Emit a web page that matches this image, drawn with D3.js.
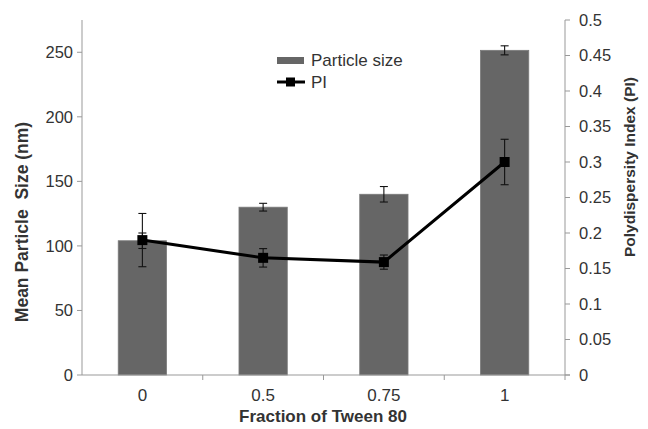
<!DOCTYPE html>
<html>
<head>
<meta charset="utf-8">
<script src="https://cdn.jsdelivr.net/npm/d3@7"></script>
<style>
  body { margin: 0; background: #fff; }
  text { font-family: "Liberation Sans", Arial, sans-serif; fill: #333; }
</style>
</head>
<body>
<div id="chart"></div>
<script>
// data
const fractions = ["0", "0.5", "0.75", "1"];
const sizeMean = [104, 130, 140, 251.5];
const sizeErr = [6, 3, 6, 3.5];
const piMean = [0.19, 0.165, 0.159, 0.30];
const piErr = [0.0375, 0.013, 0.01, 0.032];
const sizeTicks = [0, 50, 100, 150, 200, 250];
const piTicks = [0, 0.05, 0.1, 0.15, 0.2, 0.25, 0.3, 0.35, 0.4, 0.45, 0.5];

const W = 648, H = 429;
const plot = { left: 82, right: 565, top: 20, bottom: 375 };
const axisColor = "#999";

const svg = d3.select("#chart").append("svg")
  .attr("width", W).attr("height", H);

const x = d3.scaleBand()
  .domain(fractions)
  .range([plot.left, plot.right])
  .paddingInner(0.6)
  .paddingOuter(0.3);

const yL = d3.scaleLinear().domain([0, 275]).range([plot.bottom, plot.top]);
const yR = d3.scaleLinear().domain([0, 0.5]).range([plot.bottom, plot.top]);

const rows = fractions.map((f, i) => ({
  f, size: sizeMean[i], se: sizeErr[i], pi: piMean[i], pe: piErr[i]
}));
const cx = d => x(d.f) + x.bandwidth() / 2;

// bars
svg.selectAll(".bar")
  .data(rows)
  .enter().append("rect")
  .attr("class", "bar")
  .attr("x", d => x(d.f))
  .attr("y", d => yL(d.size))
  .attr("width", x.bandwidth())
  .attr("height", d => yL(0) - yL(d.size))
  .attr("fill", "#666")
  .attr("stroke", "#7a7a7a")
  .attr("stroke-width", 0.8);

// error bars helper
function errBars(cls, yScale, val, err) {
  const g = svg.selectAll("." + cls)
    .data(rows)
    .enter().append("g")
    .attr("class", cls)
    .attr("stroke", "#111")
    .attr("stroke-width", 1.1);
  g.append("line")
    .attr("x1", cx).attr("x2", cx)
    .attr("y1", d => yScale(val(d) - err(d)))
    .attr("y2", d => yScale(val(d) + err(d)));
  [-1, 1].forEach(s => {
    g.append("line")
      .attr("x1", d => cx(d) - 4).attr("x2", d => cx(d) + 4)
      .attr("y1", d => yScale(val(d) + s * err(d)))
      .attr("y2", d => yScale(val(d) + s * err(d)));
  });
}
errBars("size-err", yL, d => d.size, d => d.se);

// axes lines
svg.append("line")
  .attr("x1", plot.left).attr("x2", plot.left)
  .attr("y1", plot.top).attr("y2", plot.bottom)
  .attr("stroke", axisColor);
svg.append("line")
  .attr("x1", plot.right).attr("x2", plot.right)
  .attr("y1", plot.top).attr("y2", plot.bottom)
  .attr("stroke", axisColor);
svg.append("line")
  .attr("x1", plot.left).attr("x2", plot.right + 5)
  .attr("y1", plot.bottom).attr("y2", plot.bottom)
  .attr("stroke", axisColor);

// left ticks
const lt = svg.selectAll(".ltick").data(sizeTicks).enter().append("g")
  .attr("class", "ltick")
  .attr("transform", d => `translate(${plot.left},${yL(d)})`);
lt.append("line").attr("x1", -5).attr("x2", 0).attr("stroke", axisColor);
lt.append("text")
  .attr("x", -9).attr("dy", "0.35em")
  .attr("text-anchor", "end")
  .style("font-size", "16.5px")
  .text(d => d);

// right ticks
const rt = svg.selectAll(".rtick").data(piTicks).enter().append("g")
  .attr("class", "rtick")
  .attr("transform", d => `translate(${plot.right},${yR(d)})`);
rt.append("line").attr("x1", 0).attr("x2", 5).attr("stroke", axisColor);
rt.append("text")
  .attr("x", 14).attr("dy", "0.35em")
  .attr("text-anchor", "start")
  .style("font-size", "16.5px")
  .text(d => d);

// x ticks at category boundaries
const bounds = fractions.map(f => x(f) + x.bandwidth() + x.step() * x.paddingInner() / 2);
svg.selectAll(".xtick").data(bounds).enter().append("line")
  .attr("class", "xtick")
  .attr("x1", d => d).attr("x2", d => d)
  .attr("y1", plot.bottom).attr("y2", plot.bottom + 5)
  .attr("stroke", axisColor);
svg.selectAll(".xlab").data(rows).enter().append("text")
  .attr("class", "xlab")
  .attr("x", cx)
  .attr("y", 401)
  .attr("text-anchor", "middle")
  .style("font-size", "17px")
  .text(d => d.f);

// PI line
errBars("pi-err", yR, d => d.pi, d => d.pe);
svg.append("path")
  .datum(rows)
  .attr("fill", "none")
  .attr("stroke", "#000")
  .attr("stroke-width", 3)
  .attr("d", d3.line().x(cx).y(d => yR(d.pi)));
svg.selectAll(".pt").data(rows).enter().append("rect")
  .attr("class", "pt")
  .attr("x", d => cx(d) - 5).attr("y", d => yR(d.pi) - 5)
  .attr("width", 10).attr("height", 10)
  .attr("fill", "#000");

// axis titles
svg.append("text")
  .attr("transform", "translate(28,222) rotate(-90)")
  .attr("text-anchor", "middle")
  .style("font-size", "17.5px").style("font-weight", "bold")
  .style("white-space", "pre")
  .text("Mean Particle  Size (nm)");
svg.append("text")
  .attr("transform", "translate(635,167) rotate(-90)")
  .attr("text-anchor", "middle")
  .style("font-size", "15.5px").style("font-weight", "bold")
  .text("Polydispersity Index (PI)");
svg.append("text")
  .attr("x", 323).attr("y", 422)
  .attr("text-anchor", "middle")
  .style("font-size", "17px").style("font-weight", "bold")
  .text("Fraction of Tween 80");

// legend
const lg = svg.append("g").attr("transform", "translate(277,0)");
lg.append("rect").attr("x", 0).attr("y", 57).attr("width", 27).attr("height", 7).attr("fill", "#666");
lg.append("text").attr("x", 34).attr("y", 60).attr("dy", "0.35em")
  .style("font-size", "17px").text("Particle size");
lg.append("line").attr("x1", 0).attr("x2", 28).attr("y1", 82).attr("y2", 82)
  .attr("stroke", "#000").attr("stroke-width", 3);
lg.append("rect").attr("x", 9).attr("y", 77.5).attr("width", 9).attr("height", 9).attr("fill", "#000");
lg.append("text").attr("x", 34).attr("y", 82).attr("dy", "0.35em")
  .style("font-size", "17px").text("PI");
</script>
</body>
</html>
